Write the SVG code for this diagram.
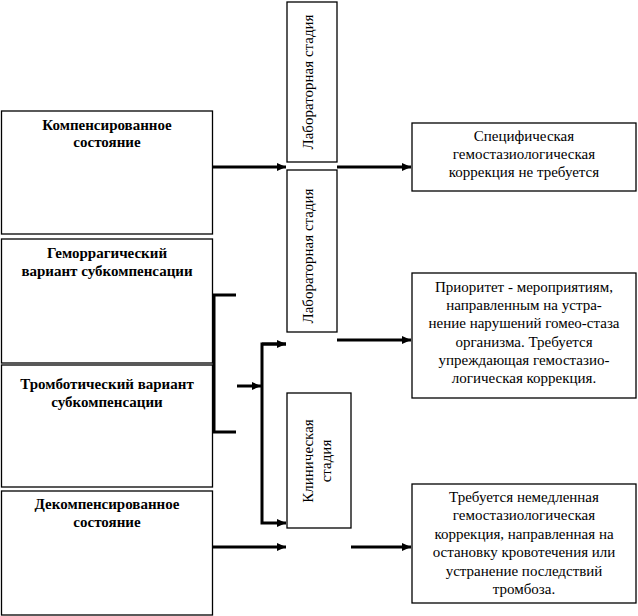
<svg xmlns="http://www.w3.org/2000/svg" width="638" height="616" viewBox="0 0 638 616">
<style>
.box{fill:#fff;stroke:#000;stroke-width:1.3}
.lt{font-family:"Liberation Serif","DejaVu Serif",serif;font-size:15px;font-weight:bold;text-anchor:middle;fill:#000}
.rt{font-family:"Liberation Serif","DejaVu Serif",serif;font-size:15px;text-anchor:middle;fill:#000}
.vt{font-family:"Liberation Serif","DejaVu Serif",serif;font-size:15px;text-anchor:middle;fill:#000}
.ln{fill:none;stroke:#000;stroke-width:3}
</style>
<defs>
<marker id="ah" markerUnits="userSpaceOnUse" markerWidth="10" markerHeight="8" refX="9" refY="4" orient="auto">
<path d="M0,0 L9,4 L0,8 Z" fill="#000"/>
</marker>
</defs>
<rect width="638" height="616" fill="#fff"/>
<g id="connectors">
<path class="ln" d="M213,167 H286" marker-end="url(#ah)"/>
<path class="ln" d="M337,167 H411" marker-end="url(#ah)"/>
<path class="ln" d="M236,295 H214 V432 H236"/>
<path class="ln" d="M237,386 H261" marker-end="url(#ah)"/>
<path class="ln" d="M286,344 H262 V523 H286" marker-end="url(#ah)"/>
<path class="ln" d="M262,344 H286" marker-end="url(#ah)"/>
<path class="ln" d="M337,340 H411" marker-end="url(#ah)"/>
<path class="ln" d="M213,547 H286" marker-end="url(#ah)"/>
<path class="ln" d="M351,547 H411" marker-end="url(#ah)"/>
</g>
<g id="n1">
<rect class="box" x="1.5" y="111" width="211" height="123"/>
<text class="lt" x="107" y="130">Компенсированное</text>
<text class="lt" x="107" y="147">состояние</text>
</g>
<g id="n2">
<rect class="box" x="1.5" y="239" width="211" height="124"/>
<text class="lt" x="107" y="258">Геморрагический</text>
<text class="lt" x="107" y="276">вариант субкомпенсации</text>
</g>
<g id="n3">
<rect class="box" x="1.5" y="365" width="211" height="122"/>
<text class="lt" x="107" y="389">Тромботический вариант</text>
<text class="lt" x="107" y="407">субкомпенсации</text>
</g>
<g id="n4">
<rect class="box" x="1.5" y="491" width="211" height="124"/>
<text class="lt" x="107" y="509">Декомпенсированное</text>
<text class="lt" x="107" y="527">состояние</text>
</g>
<g id="lab1">
<rect class="box" x="287" y="2" width="50" height="160"/>
<text class="vt" transform="translate(313,82) rotate(-90)">Лабораторная стадия</text>
</g>
<g id="lab2">
<rect class="box" x="287" y="170" width="50" height="162"/>
<text class="vt" transform="translate(313,256) rotate(-90)">Лабораторная стадия</text>
</g>
<g id="clin">
<rect class="box" x="287" y="393" width="64" height="135"/>
<text class="vt" transform="translate(313,461) rotate(-90)">Клиническая</text>
<text class="vt" transform="translate(331,461) rotate(-90)">стадия</text>
</g>
<g id="r1">
<rect class="box" x="412" y="123" width="224" height="68"/>
<text class="rt" x="524" y="141">Специфическая</text>
<text class="rt" x="524" y="159">гемостазиологическая</text>
<text class="rt" x="524" y="177">коррекция не требуется</text>
</g>
<g id="r2">
<rect class="box" x="412" y="273" width="224" height="125"/>
<text class="rt" x="524" y="292">Приоритет - мероприятиям,</text>
<text class="rt" x="524" y="310">направленным на устра-</text>
<text class="rt" x="524" y="328">нение нарушений гомео-стаза</text>
<text class="rt" x="524" y="347">организма. Требуется</text>
<text class="rt" x="524" y="365">упреждающая гемостазио-</text>
<text class="rt" x="524" y="383">логическая коррекция.</text>
</g>
<g id="r3">
<rect class="box" x="412" y="484" width="224" height="119"/>
<text class="rt" x="524" y="502">Требуется немедленная</text>
<text class="rt" x="524" y="520">гемостазиологическая</text>
<text class="rt" x="524" y="539">коррекция, направленная на</text>
<text class="rt" x="524" y="557">остановку кровотечения или</text>
<text class="rt" x="524" y="576">устранение последствий</text>
<text class="rt" x="524" y="594">тромбоза.</text>
</g>
</svg>
